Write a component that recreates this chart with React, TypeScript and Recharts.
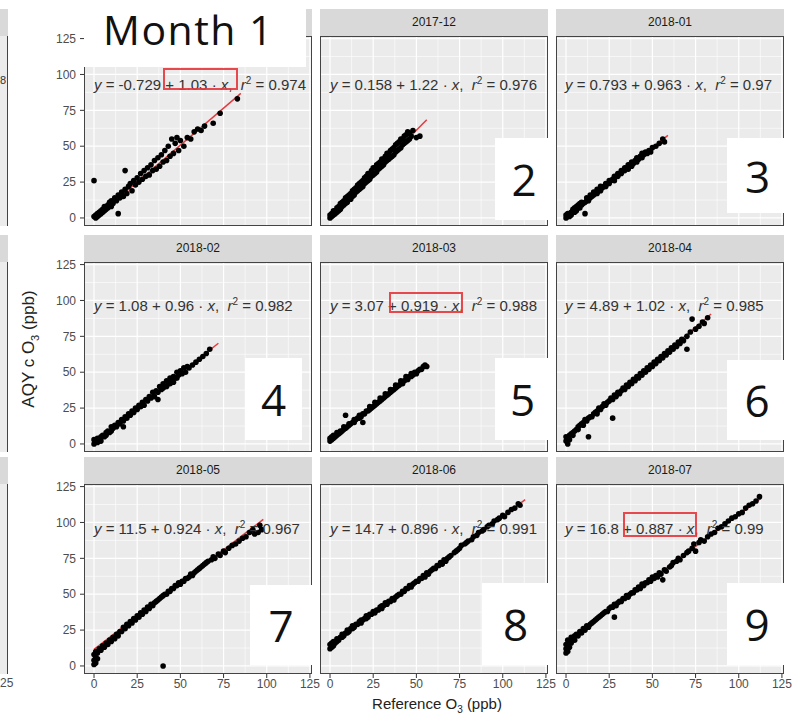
import { ComposedChart, Scatter, Line, XAxis, YAxis, CartesianGrid } from 'recharts'

// facet labels (first strip is covered by the "Month 1" box)
const stripLabels = ['', '2017-12', '2018-01', '2018-02', '2018-03', '2018-04', '2018-05', '2018-06', '2018-07']
const boxNumbers = ['', '2', '3', '4', '5', '6', '7', '8', '9']
const intercepts = ['-0.729', '0.158', '0.793', '1.08', '3.07', '4.89', '11.5', '14.7', '16.8']
const slopes = ['1.03', '1.22', '0.963', '0.96', '0.919', '1.02', '0.924', '0.896', '0.887']
const r2s = ['0.974', '0.976', '0.97', '0.982', '0.988', '0.985', '0.967', '0.991', '0.99']
const majorTicks = [0, 25, 50, 75, 100, 125]
const minorTicks = [12.5, 37.5, 62.5, 87.5, 112.5]

// [reference O3, AQY O3]
const pts1 = [[0,1],[1,0],[1,2],[2,1],[2,3],[3,2],[3,4],[4,3],[4,5],[5,4],[5,6],[6,5],[6,8],[7,6],[8,9],[8,7],[9,11],[10,8],[10,12],[11,10],[12,14],[13,12],[14,3],[14,16],[15,14],[16,18],[17,15],[18,33],[18,20],[19,17],[20,22],[21,24],[22,19],[23,26],[24,23],[25,28],[26,25],[27,31],[28,27],[29,33],[30,29],[31,35],[32,30],[33,37],[34,33],[35,40],[36,34],[37,42],[38,36],[39,44],[40,39],[41,47],[42,40],[43,50],[44,43],[45,55],[46,45],[47,52],[48,56],[49,47],[50,54],[52,50],[54,56],[56,55],[58,60],[60,62],[62,61],[64,64],[69,66],[73,73],[83,83],[0,26]]
const pts2 = [[0,0],[0,2],[1,1],[1,3],[2,2],[2,5],[3,3],[3,5],[4,4],[4,7],[5,5],[5,8],[6,6],[6,10],[7,8],[7,11],[8,9],[8,12],[9,10],[9,14],[10,11],[10,15],[11,13],[11,16],[12,13],[12,17],[13,15],[13,19],[14,16],[14,20],[15,18],[15,21],[16,19],[16,23],[17,20],[17,24],[18,21],[18,25],[19,22],[19,26],[20,24],[20,28],[21,25],[21,29],[22,26],[22,31],[23,27],[23,31],[24,29],[24,33],[25,30],[25,35],[26,31],[26,35],[27,32],[27,37],[28,34],[28,38],[29,35],[29,39],[30,36],[30,41],[31,37],[31,41],[32,39],[32,43],[33,40],[33,45],[34,41],[34,45],[35,42],[35,47],[36,43],[36,48],[37,44],[37,49],[38,46],[38,51],[39,47],[39,52],[40,48],[40,53],[41,49],[41,55],[42,51],[42,55],[43,52],[43,57],[44,53],[44,58],[45,54],[45,60],[46,55],[46,59],[47,57],[48,61],[50,56],[52,57]]
const pts3 = [[0,0],[0,2],[1,1],[1,3],[2,1],[2,3],[3,2],[3,4],[4,4],[4,6],[5,4],[5,7],[6,5],[6,8],[7,7],[7,9],[8,7],[8,10],[9,9],[9,11],[11,3],[10,10],[11,11],[12,12],[12,14],[13,12],[14,14],[14,16],[15,15],[16,16],[16,18],[17,17],[18,17],[18,20],[19,19],[20,19],[20,22],[21,21],[22,22],[23,22],[23,24],[24,24],[25,24],[25,26],[26,26],[27,27],[28,26],[28,29],[29,29],[30,29],[30,31],[31,31],[32,31],[32,33],[33,33],[34,33],[34,35],[35,35],[36,34],[36,37],[37,37],[38,36],[38,39],[39,38],[40,40],[41,39],[41,42],[42,41],[43,43],[44,42],[44,45],[45,44],[46,46],[47,45],[48,47],[49,46],[50,49],[52,50],[54,52],[56,55],[57,53]]
const pts4 = [[0,0],[0,3],[1,2],[2,1],[2,4],[3,3],[4,5],[4,2],[5,6],[6,5],[7,8],[7,6],[8,9],[9,8],[10,12],[10,9],[11,11],[12,13],[13,12],[14,15],[15,14],[16,17],[17,12],[17,16],[18,19],[19,18],[20,21],[21,20],[22,23],[23,22],[24,25],[25,24],[26,27],[27,26],[28,29],[29,27],[30,31],[31,30],[32,33],[33,32],[34,36],[35,33],[36,37],[37,31],[37,36],[38,40],[39,38],[40,42],[40,39],[41,40],[42,44],[42,40],[43,42],[44,46],[44,42],[45,44],[46,47],[46,43],[47,46],[48,50],[48,46],[49,48],[50,51],[51,49],[52,53],[53,50],[54,54],[55,53],[57,55],[59,57],[61,59],[63,61],[65,63],[67,66]]
const pts5 = [[0,2],[0,4],[1,3],[1,5],[2,4],[2,6],[3,5],[4,6],[4,8],[5,7],[6,8],[6,9],[7,9],[8,10],[8,12],[9,20],[9,11],[10,12],[11,13],[11,14],[12,14],[13,15],[14,15],[14,17],[15,17],[16,18],[17,18],[17,20],[18,19],[19,15],[19,21],[20,21],[21,23],[22,23],[23,24],[23,26],[24,25],[25,26],[26,27],[26,29],[27,28],[28,29],[29,30],[29,32],[30,31],[31,32],[32,33],[32,35],[33,34],[34,35],[35,36],[35,38],[36,37],[37,38],[38,39],[38,41],[39,40],[40,41],[41,42],[41,44],[42,42],[43,44],[44,45],[44,47],[45,45],[46,47],[47,47],[47,49],[48,48],[49,50],[50,49],[51,51],[52,52],[53,52],[54,54],[55,55],[56,54]]
const pts6 = [[0,2],[1,0],[0,5],[1,4],[2,6],[2,3],[3,7],[4,8],[4,6],[5,9],[6,10],[7,12],[7,10],[8,13],[9,14],[10,15],[10,13],[11,17],[12,16],[13,5],[13,18],[14,19],[15,19],[16,21],[17,22],[18,23],[18,21],[19,25],[20,24],[21,26],[22,28],[23,27],[24,29],[25,30],[26,32],[27,18],[27,31],[28,34],[29,33],[30,36],[31,35],[32,37],[33,39],[34,38],[35,41],[36,40],[37,43],[38,42],[39,45],[40,44],[41,47],[42,46],[43,49],[44,48],[45,51],[46,50],[47,53],[48,52],[49,55],[50,54],[51,57],[52,56],[53,59],[54,58],[55,61],[56,60],[57,63],[58,62],[59,65],[60,64],[61,67],[62,66],[63,69],[64,68],[65,71],[66,70],[67,73],[68,72],[70,66],[70,75],[72,78],[73,87],[75,80],[77,82],[79,85],[80,84],[82,88]]
const pts7 = [[0,1],[0,4],[1,2],[1,6],[0,8],[2,5],[1,10],[2,9],[3,12],[4,11],[5,14],[6,13],[7,16],[8,15],[9,18],[10,17],[11,20],[12,19],[13,22],[14,21],[15,24],[16,24],[17,27],[18,26],[19,29],[20,28],[21,31],[22,30],[23,33],[24,32],[25,35],[26,34],[27,37],[28,36],[29,39],[30,38],[31,41],[32,40],[33,43],[34,42],[35,44],[36,45],[37,46],[38,47],[39,48],[40,0],[40,49],[41,50],[42,50],[43,52],[44,52],[45,54],[46,54],[47,56],[48,56],[49,58],[50,57],[51,59],[52,59],[53,61],[54,61],[55,62],[56,64],[57,63],[58,65],[59,66],[60,67],[61,68],[62,69],[63,70],[64,71],[65,72],[66,73],[68,74],[69,76],[70,75],[72,78],[73,77],[75,80],[76,79],[78,82],[80,84],[82,85],[84,87],[86,89],[88,90],[90,93],[92,95],[93,92],[95,93],[96,98],[97,95]]
const pts8 = [[0,12],[0,15],[1,13],[1,16],[2,14],[2,17],[3,16],[4,17],[4,19],[5,18],[6,20],[7,20],[7,22],[8,21],[9,23],[10,23],[10,25],[11,24],[12,26],[13,26],[13,28],[14,27],[15,29],[16,29],[17,31],[18,30],[18,32],[19,32],[20,33],[21,33],[21,35],[22,34],[23,36],[24,36],[25,38],[26,37],[27,39],[28,39],[29,41],[30,40],[30,42],[31,42],[32,44],[33,43],[34,45],[35,45],[36,47],[37,46],[38,48],[39,49],[40,50],[41,50],[42,52],[43,52],[44,54],[45,54],[46,56],[47,55],[48,57],[49,58],[50,59],[51,59],[52,61],[53,61],[54,63],[55,62],[56,65],[57,64],[58,66],[59,67],[60,68],[61,68],[62,70],[63,70],[64,72],[65,71],[66,74],[67,73],[68,75],[69,76],[70,77],[72,79],[73,80],[74,81],[75,82],[76,84],[78,85],[79,86],[80,87],[82,88],[83,90],[85,91],[86,93],[88,94],[89,95],[91,97],[92,98],[94,99],[95,101],[97,102],[98,103],[100,105],[101,104],[103,107],[105,109],[107,110],[109,113],[110,112]]
const pts9 = [[0,9],[0,12],[0,15],[1,10],[1,14],[1,18],[2,13],[2,17],[3,16],[3,20],[4,19],[5,21],[5,18],[6,22],[7,21],[8,24],[9,23],[10,26],[11,25],[12,28],[13,27],[14,29],[15,30],[16,31],[17,32],[18,33],[19,34],[20,35],[21,36],[22,37],[23,38],[24,38],[25,40],[26,41],[27,41],[28,34],[28,43],[29,42],[30,44],[31,45],[32,45],[33,47],[34,47],[35,49],[36,48],[37,50],[38,51],[39,51],[40,53],[41,53],[42,55],[43,54],[44,57],[45,56],[46,58],[47,58],[48,60],[49,59],[50,62],[51,61],[52,63],[53,62],[54,65],[55,64],[56,60],[57,67],[58,66],[60,69],[61,70],[62,72],[64,73],[65,75],[66,74],[68,77],[70,79],[71,80],[73,82],[74,85],[75,80],[77,86],[78,88],[80,87],[82,90],[84,92],[86,93],[88,96],[90,97],[92,99],[94,101],[96,103],[98,104],[100,106],[102,107],[104,110],[106,112],[108,113],[110,115],[112,118]]

// fitted line end points per facet
const fit1 = [[0,-0.7],[85,86.8]]
const fit2 = [[0,0.2],[56,68.5]]
const fit3 = [[0,0.8],[59,57.6]]
const fit4 = [[0,1.1],[72,70.2]]
const fit5 = [[0,3.1],[57,55.5]]
const fit6 = [[0,4.9],[84,90.6]]
const fit7 = [[0,11.5],[98,102.1]]
const fit8 = [[0,14.7],[113,115.9]]
const fit9 = [[0,16.8],[113,117]]

const allPts = [pts1, pts2, pts3, pts4, pts5, pts6, pts7, pts8, pts9]
const allFits = [fit1, fit2, fit3, fit4, fit5, fit6, fit7, fit8, fit9]

const COL_X = [84, 320, 556]
const ROW_Y = [36, 262, 484]
const PW = 228
const PH = 190
const Y_AXIS_W = 40
const X_AXIS_H = 24
const X_DOMAIN = [-5.8, 126.2]
const Y_DOMAIN = [-5.6, 126.8]
const FONT = '"Liberation Sans", Arial, sans-serif'

const toXY = (arr: number[][]) => arr.map(([x, y]) => ({ x, y }))

const Dot = (props: any) => <circle cx={props.cx} cy={props.cy} r={2.8} fill="#000" />

function Panel({ i }: { i: number }) {
  const col = i % 3
  const row = Math.floor(i / 3)
  const showY = col === 0
  const showX = row === 2
  const w = PW + (showY ? Y_AXIS_W : 0)
  const h = PH + (showX ? X_AXIS_H : 0)
  const tick = { fontSize: 12, fill: '#4d4d4d', fontFamily: FONT }
  return (
    <div style={{ position: 'absolute', left: COL_X[col] - (showY ? Y_AXIS_W : 0), top: ROW_Y[row], width: w, height: h }}>
      <ComposedChart width={w} height={h} margin={{ top: 0, right: 0, bottom: 0, left: 0 }} style={{ overflow: 'visible' }}>
        <CartesianGrid fill="#ebebeb" stroke="#fff" strokeWidth={0.6} horizontalValues={minorTicks} verticalValues={minorTicks} />
        <CartesianGrid stroke="#fff" strokeWidth={1.2} horizontalValues={majorTicks} verticalValues={majorTicks} />
        <XAxis type="number" dataKey="x" domain={X_DOMAIN} ticks={majorTicks} interval={0} allowDataOverflow
          hide={!showX} height={X_AXIS_H} axisLine={false} tickLine={{ stroke: '#333' }} tickSize={4} tickMargin={1} tick={tick} />
        <YAxis type="number" dataKey="y" domain={Y_DOMAIN} ticks={majorTicks} interval={0} allowDataOverflow
          hide={!showY} width={Y_AXIS_W} axisLine={false} tickLine={{ stroke: '#333' }} tickSize={4} tickMargin={4} tick={tick} />
        <Scatter data={toXY(allPts[i])} shape={Dot} isAnimationActive={false} />
        <Line data={toXY(allFits[i])} dataKey="y" stroke="#e3262b" strokeOpacity={0.9} strokeWidth={1.5} dot={false} isAnimationActive={false} />
      </ComposedChart>
    </div>
  )
}

const annY = [81, 302, 525]
const annX = [10, 10, 9]
const numBoxes = [
  null,
  { left: 495, top: 138, width: 58, height: 82 },
  { left: 727, top: 138, width: 61, height: 75 },
  { left: 245, top: 358, width: 57, height: 82 },
  { left: 495, top: 358, width: 55, height: 82 },
  { left: 727, top: 360, width: 60, height: 80 },
  { left: 250, top: 585, width: 62, height: 80 },
  { left: 482, top: 583, width: 67, height: 82 },
  { left: 727, top: 583, width: 60, height: 82 },
]
const redBoxes = [
  { left: 163, top: 68, width: 75, height: 22 },
  { left: 389, top: 292, width: 74, height: 21 },
  { left: 623, top: 512, width: 74, height: 25 },
]

export default function App() {
  const idx = [0, 1, 2, 3, 4, 5, 6, 7, 8]
  return (
    <div style={{ position: 'relative', width: 800, height: 721, background: '#fff', overflow: 'hidden', fontFamily: FONT }}>
      <style>{'body{margin:0} .recharts-surface{overflow:visible}'}</style>

      {/* cut-off facet column on the far left */}
      {ROW_Y.map((y, r) => (
        <div key={'rem' + r}>
          <div style={{ position: 'absolute', left: 0, top: y - 27, width: 8, height: 27, background: '#d9d9d9' }} />
          <div style={{ position: 'absolute', left: 0, top: y, width: 8, height: PH, background: '#ececec', borderRight: '1px solid #444', boxSizing: 'border-box' }} />
        </div>
      ))}
      <div style={{ position: 'absolute', left: 0, top: 74, fontSize: 11, color: '#333' }}>8</div>
      <div style={{ position: 'absolute', left: 0, top: 676, fontSize: 12, color: '#4d4d4d' }}>25</div>

      {idx.map(i => <Panel key={i} i={i} />)}

      {idx.map(i => {
        const col = i % 3
        const row = Math.floor(i / 3)
        return (
          <div key={'ov' + i}>
            <div style={{ position: 'absolute', left: COL_X[col], top: ROW_Y[row], width: PW, height: PH, border: '1px solid #444', boxSizing: 'border-box' }} />
            <div style={{ position: 'absolute', left: COL_X[col] + annX[col], top: annY[row] - 9, whiteSpace: 'nowrap', fontSize: 15, lineHeight: '18px', color: '#333' }}>
              <i>y</i> = {intercepts[i]} + {slopes[i]} · <i>x</i>,&nbsp; <i>r</i><sup style={{ fontSize: 10 }}>2</sup> = {r2s[i]}
            </div>
            <div style={{ position: 'absolute', left: COL_X[col], top: ROW_Y[row] - 27, width: PW, height: 27, background: '#d9d9d9', textAlign: 'center', lineHeight: '27px', fontSize: 12, color: '#1a1a1a' }}>
              {stripLabels[i]}
            </div>
          </div>
        )
      })}

      {redBoxes.map((b, k) => (
        <div key={'rb' + k} style={{ position: 'absolute', ...b, border: '2px solid rgba(228,55,60,0.9)', boxSizing: 'border-box' }} />
      ))}

      {numBoxes.map((b, i) => b && (
        <div key={'nb' + i} style={{ position: 'absolute', ...b, background: '#fff', display: 'flex', alignItems: 'center', justifyContent: 'center', fontFamily: '"Open Sans", sans-serif', fontSize: 44, color: '#111', lineHeight: 1 }}>
          {boxNumbers[i]}
        </div>
      ))}

      <div style={{ position: 'absolute', left: 84, top: 0, width: 222, height: 67, background: '#fff' }}>
        <div style={{ position: 'absolute', left: 19, top: 1, fontFamily: '"Open Sans", sans-serif', fontSize: 41, letterSpacing: 1.5, lineHeight: '56px', color: '#111' }}>Month 1</div>
      </div>

      <div style={{ position: 'absolute', left: 30, top: 349, transform: 'translate(-50%, -50%) rotate(-90deg)', whiteSpace: 'nowrap', fontSize: 17, color: '#222' }}>
        AQY c O<sub style={{ fontSize: 11 }}>3</sub> (ppb)
      </div>
      <div style={{ position: 'absolute', left: 437, top: 705, transform: 'translate(-50%, -50%)', whiteSpace: 'nowrap', fontSize: 15, color: '#222' }}>
        Reference O<sub style={{ fontSize: 10 }}>3</sub> (ppb)
      </div>
    </div>
  )
}
